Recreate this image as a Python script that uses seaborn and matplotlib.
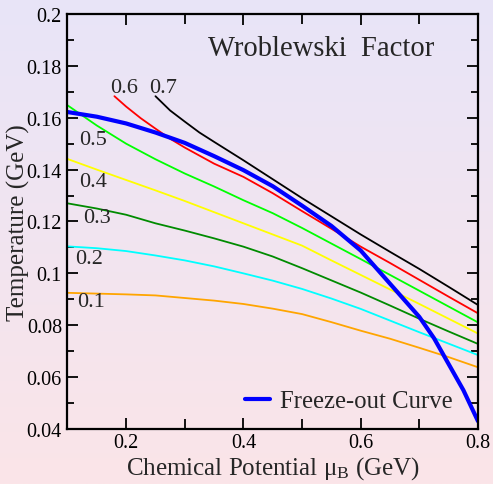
#!/usr/bin/env python
# -*- coding: utf-8 -*-
"""
Wroblewski factor contours in the (mu_B, T) plane with the freeze-out curve.
"""

import numpy as np
import pandas as pd
import matplotlib
matplotlib.use("Agg")
import matplotlib.pyplot as plt
from matplotlib.colors import LinearSegmentedColormap
from matplotlib.ticker import MultipleLocator
import seaborn as sns

# ---------------------------------------------------------------------------
# Data
# ---------------------------------------------------------------------------
mu_grid = [0.10, 0.15, 0.20, 0.25, 0.30, 0.35, 0.40, 0.45,
           0.50, 0.55, 0.60, 0.65, 0.70, 0.75, 0.80]

t_w01 = [0.0925, 0.0922, 0.0919, 0.0915, 0.0905, 0.0895, 0.0882, 0.0864,
         0.0843, 0.0812, 0.0779, 0.0748, 0.0713, 0.0677, 0.0638]
t_w02 = [0.1104, 0.1097, 0.1086, 0.1069, 0.1050, 0.1027, 0.1000, 0.0972,
         0.0940, 0.0903, 0.0863, 0.0818, 0.0773, 0.0729, 0.0685]
t_w03 = [0.1270, 0.1250, 0.1226, 0.1193, 0.1165, 0.1135, 0.1103, 0.1065,
         0.1020, 0.0973, 0.0926, 0.0876, 0.0825, 0.0776, 0.0728]
t_w04 = [0.1441, 0.1400, 0.1360, 0.1320, 0.1279, 0.1236, 0.1193, 0.1150,
         0.1107, 0.1050, 0.0994, 0.0938, 0.0882, 0.0825, 0.0768]
t_w05 = [0.1648, 0.1570, 0.1500, 0.1440, 0.1385, 0.1335, 0.1282, 0.1232,
         0.1175, 0.1115, 0.1055, 0.0994, 0.0933, 0.0872, 0.0811]

mu_w06 = [0.18, 0.20, 0.225, 0.25, 0.275, 0.30, 0.35, 0.40, 0.45, 0.50,
          0.55, 0.60, 0.65, 0.70, 0.75, 0.80]
t_w06 = [0.1683, 0.1643, 0.1598, 0.1558, 0.1519, 0.1485, 0.1423, 0.1372,
         0.1309, 0.1240, 0.1172, 0.1103, 0.1040, 0.0975, 0.0910, 0.0846]

mu_w07 = [0.25, 0.275, 0.30, 0.325, 0.35, 0.40, 0.45, 0.50, 0.55, 0.60,
          0.65, 0.70, 0.75, 0.80]
t_w07 = [0.1683, 0.1628, 0.1585, 0.1543, 0.1507, 0.1436, 0.1363, 0.1290,
         0.1220, 0.1150, 0.1083, 0.1017, 0.0948, 0.0878]

mu_fo = [0.10, 0.15, 0.20, 0.25, 0.30, 0.35, 0.40, 0.45, 0.50,
         0.55, 0.60, 0.65, 0.70, 0.725, 0.75, 0.775, 0.80]
t_fo = [0.1622, 0.1604, 0.1578, 0.1543, 0.1503, 0.1452, 0.1398, 0.1336, 0.1261,
        0.1183, 0.1088, 0.0960, 0.0832, 0.0750, 0.0650, 0.0550, 0.0430]

w_labels = ["0.1", "0.2", "0.3", "0.4", "0.5", "0.6", "0.7"]
w_colors = ["#ffa500", "#00ffff", "#008b00", "#ffff00",
            "#00ff00", "#ff0000", "#000000"]

# ---------------------------------------------------------------------------
# Style
# ---------------------------------------------------------------------------
sns.set_style("ticks")
plt.rcParams['font.family'] = ['Liberation Serif', 'DejaVu Serif']
plt.rcParams['mathtext.fontset'] = 'custom'
plt.rcParams['mathtext.rm'] = 'Liberation Serif'
plt.rcParams['mathtext.it'] = 'Liberation Serif:italic'


def main():
    fig = plt.figure(figsize=(4.93, 4.85), dpi=100)

    # vertical lavender -> pink gradient behind everything
    bg = fig.add_axes([0, 0, 1, 1], zorder=-10)
    cmap = LinearSegmentedColormap.from_list("bg", ["#fbe5e8", "#e8e4f8"])
    bg.imshow(np.linspace(0, 1, 256).reshape(-1, 1), aspect='auto',
              cmap=cmap, origin='lower', extent=(0, 1, 0, 1))
    bg.axis('off')

    ax = fig.add_axes([0.1369, 0.1134, 0.8327, 0.8557])
    ax.patch.set_alpha(0)

    series = [(mu_grid, t_w01), (mu_grid, t_w02), (mu_grid, t_w03),
              (mu_grid, t_w04), (mu_grid, t_w05), (mu_w06, t_w06),
              (mu_w07, t_w07)]
    for (xs, ys), col in zip(series, w_colors):
        df = pd.DataFrame({'mu': xs, 'T': ys})
        sns.lineplot(data=df, x='mu', y='T', color=col, lw=1.3, ax=ax,
                     sort=False, estimator=None)

    df_fo = pd.DataFrame({'mu': mu_fo, 'T': t_fo})
    sns.lineplot(data=df_fo, x='mu', y='T', color='#0000ff', lw=3.0, ax=ax,
                 sort=False, estimator=None, label='Freeze-out Curve')

    # curve labels
    label_pos = [(0.116, 0.0873), (0.113, 0.1039), (0.126, 0.1199),
                 (0.120, 0.1338), (0.119, 0.1499), (0.172, 0.1698),
                 (0.239, 0.1698)]
    for txt, (x, y) in zip(w_labels, label_pos):
        ax.text(x, y, txt, fontsize=16, ha='left', va='baseline')

    ax.text(0.340, 0.1842, "Wroblewski  Factor", fontsize=20.6,
            ha='left', va='baseline')

    ax.set_xlim(0.1, 0.8)
    ax.set_ylim(0.04, 0.2)
    ax.xaxis.set_major_locator(MultipleLocator(0.2))
    ax.xaxis.set_minor_locator(MultipleLocator(0.1))
    ax.yaxis.set_major_locator(MultipleLocator(0.02))
    ax.yaxis.set_minor_locator(MultipleLocator(0.01))
    ax.set_xticks([0.2, 0.4, 0.6, 0.8])
    ax.set_xticklabels(["0.2", "0.4", "0.6", "0.8"])
    yt = np.round(np.arange(0.04, 0.2001, 0.02), 2)
    ax.set_yticks(yt)
    ax.set_yticklabels([f"{v:g}" for v in yt])

    ax.tick_params(which='both', direction='in', top=True, right=True,
                   labelsize=14.5, width=1.3, color='black', labelcolor='black')
    ax.tick_params(which='major', length=8)
    ax.tick_params(axis='x', which='major', pad=3)
    ax.tick_params(axis='y', which='major', pad=4)
    ax.tick_params(axis='x', which='minor', length=7)
    ax.tick_params(axis='y', which='minor', length=5)
    for sp in ax.spines.values():
        sp.set_linewidth(1.6)
        sp.set_color('black')

    ax.set_xlabel(r"Chemical Potential $\mathrm{\mu_B}$ (GeV)", fontsize=18)
    ax.set_ylabel("Temperature (GeV)", fontsize=18)
    # the original places the axis titles tight against the tick labels
    ax.xaxis.set_label_coords(0.5, -0.060)
    ax.yaxis.set_label_coords(-0.092, 0.5)

    ax.legend(loc='center right', bbox_to_anchor=(0.937, 0.067),
              frameon=False, fontsize=17.8, handlelength=1.0,
              handletextpad=0.4, borderaxespad=0, borderpad=0)

    fig.savefig("out.png", dpi=100)


if __name__ == "__main__":
    main()
